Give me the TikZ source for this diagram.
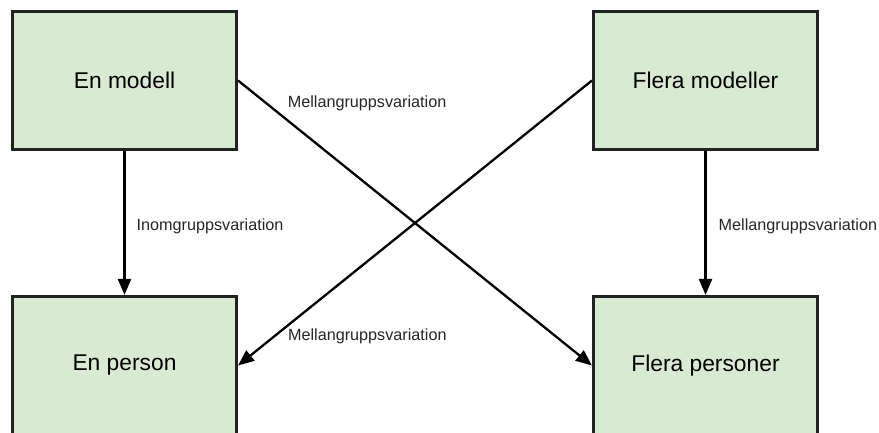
\documentclass[tikz,border=0pt]{standalone}
\usepackage{fontspec}
\setmainfont{Liberation Sans}
\usepackage{tikz}
\usetikzlibrary{
  arrows.meta
}
\definecolor{boxgreen}{HTML}{D9EAD3}
\definecolor{boxline}{HTML}{222222}
\tikzset{
  box/.style={
    draw=boxline,
    fill=boxgreen,
    line width=2.6pt,
    minimum width=224.5pt,
    minimum height=138.5pt,
    font=\fontsize{22.8}{27}\selectfont},
  lbl/.style={
    anchor=west,
    inner sep=2pt,
    text=black!85,
    font=\fontsize{16.2}{19}\selectfont}
  }

\begin{document}
\begin{tikzpicture}[x=1pt,y=-1pt]
      \useasboundingbox (0,0) rectangle (879,432);
      \node[box] (em) at (124.5,80.5) {En modell};
      \node[box] (fm) at (705.5,80.5) {Flera modeller};
      \node[box] (ep) at (124.5,365.5) {En person};
      \node[box] (fp) at (705.5,365.5) {Flera personer};
      \path[-{Triangle[length=16pt,width=13pt]},line width=2.3pt]
      (em) edge node[lbl,pos=0.52,xshift=9pt]{Inomgruppsvariation} (ep)
      (fm) edge node[lbl,pos=0.525,xshift=10pt]{Mellangruppsvariation} (fp)
      (em.east) edge node[lbl,pos=0.081,xshift=18pt]{Mellangruppsvariation} (fp.west)
      (fm.west) edge node[lbl,pos=0.8986,xshift=11pt]{Mellangruppsvariation} (ep.east);
    \end{tikzpicture}
\end{document}
